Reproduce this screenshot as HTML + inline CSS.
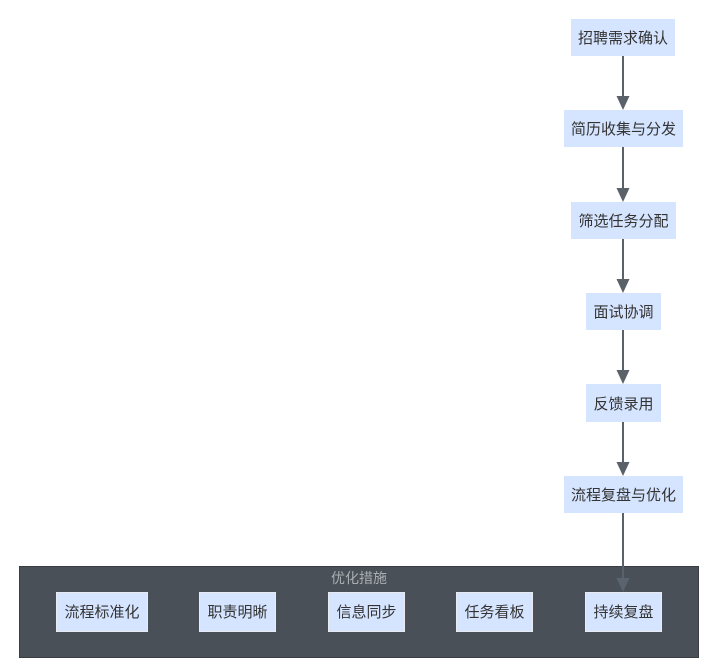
<!DOCTYPE html>
<html><head><meta charset="utf-8"><style>
html,body{margin:0;padding:0;background:#fff;}
svg{display:block;}
text{font-family:"Liberation Sans","Noto Sans CJK SC",sans-serif;font-size:15px;}
</style></head><body>
<svg width="715" height="664" viewBox="0 0 715 664" xmlns="http://www.w3.org/2000/svg">
<rect x="0" y="0" width="715" height="664" fill="#fff"/>
<!-- container -->
<rect x="19.5" y="566.5" width="679" height="91" fill="#4a5057" stroke="#3a3e43" stroke-width="1"/>
<text x="359" y="583" text-anchor="middle" fill="#a9aeb3" style="font-size:14px">优化措施</text>
<!-- edges -->
<g stroke="#5b6169" stroke-width="2" fill="none">
<line x1="623" y1="56" x2="623" y2="97"/>
<line x1="623" y1="147" x2="623" y2="189"/>
<line x1="623" y1="239" x2="623" y2="280"/>
<line x1="623" y1="330" x2="623" y2="371"/>
<line x1="623" y1="422" x2="623" y2="463"/>
<line x1="623" y1="513" x2="623" y2="579"/>
</g>
<g fill="#5b6169">
<polygon points="616.5,96 629.5,96 623,110"/>
<polygon points="616.5,188 629.5,188 623,202"/>
<polygon points="616.5,279 629.5,279 623,293"/>
<polygon points="616.5,370 629.5,370 623,384"/>
<polygon points="616.5,462 629.5,462 623,476"/>
<polygon points="616.5,578 629.5,578 623,592" fill="#5a6370"/>
</g>
<!-- main nodes -->
<g fill="#d5e5ff">
<rect x="571" y="19" width="104" height="37"/>
<rect x="564" y="110" width="119" height="37"/>
<rect x="571" y="202" width="105" height="37"/>
<rect x="586" y="293" width="75" height="37"/>
<rect x="586" y="384" width="75" height="38"/>
<rect x="564" y="476" width="119" height="37"/>
</g>
<g fill="#333" text-anchor="middle">
<text x="623" y="43">招聘需求确认</text>
<text x="623.5" y="134">简历收集与分发</text>
<text x="623.5" y="226">筛选任务分配</text>
<text x="623.5" y="317">面试协调</text>
<text x="623.5" y="409">反馈录用</text>
<text x="623.5" y="500">流程复盘与优化</text>
</g>
<!-- bottom nodes -->
<g fill="#d5e5ff" stroke="#e8ecf2" stroke-width="1">
<rect x="56.5" y="592.5" width="91" height="39"/>
<rect x="199.5" y="592.5" width="76" height="39"/>
<rect x="328.5" y="592.5" width="76" height="39"/>
<rect x="456.5" y="592.5" width="76" height="39"/>
<rect x="585.5" y="592.5" width="76" height="39"/>
</g>
<g fill="#333" text-anchor="middle">
<text x="102" y="617">流程标准化</text>
<text x="237.5" y="617">职责明晰</text>
<text x="366.5" y="617">信息同步</text>
<text x="494.5" y="617">任务看板</text>
<text x="623.5" y="617">持续复盘</text>
</g>
</svg>
</body></html>
